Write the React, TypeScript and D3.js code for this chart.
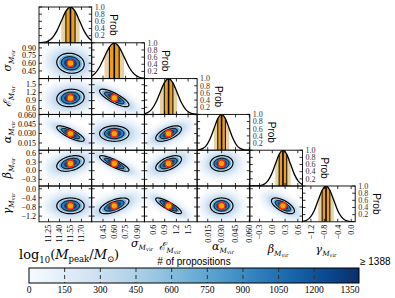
import * as d3 from 'd3';

// parameters in corner order
const RANGES: [number, number][] = [
  [11.12, 11.84],
  [0.3, 1.0],
  [0.38, 1.73],
  [0.0035, 0.0605],
  [-0.53, 0.71],
  [-1.45, 0.12],
];
const TICKS = [
  [11.25, 11.4, 11.55, 11.7],
  [0.45, 0.6, 0.75, 0.9],
  [0.6, 0.9, 1.2, 1.5],
  [0.015, 0.03, 0.045, 0.06],
  [-0.3, 0.0, 0.3, 0.6],
  [-1.2, -0.8, -0.4, 0.0],
];
const TICK_FMT = ['.2f', '.2f', '.1f', '.3f', '.1f', '.1f'];
const MEANS = [11.55, 0.6, 1.0, 0.03, 0.25, -0.75];
const SIGMAS = [0.125, 0.13, 0.22, 0.0082, 0.18, 0.23];
// lower triangle correlations, CORR[row][col]
const CORR = [
  [],
  [-0.1],
  [0.1, -0.8],
  [-0.8, 0.0, 0.6],
  [0.35, -0.85, 0.55, 0.05],
  [0.0, 0.6, -0.85, 0.0, -0.65],
];
// marginal shape, offsets in sigma units and normalised height
const PROFILE_X = [-3.5, -3, -2.5, -2, -1.5, -1, -0.5, 0, 0.5, 1, 1.5, 2, 2.5, 3, 3.5];
const PROFILE_Y = [0.002, 0.011, 0.044, 0.135, 0.325, 0.607, 0.882, 1, 0.882, 0.607, 0.325, 0.135, 0.044, 0.011, 0.002];
const PROB_TICKS = [0.2, 0.4, 0.6, 0.8, 1.0];
const CBAR_TICKS = [0, 150, 300, 450, 600, 750, 900, 1050, 1200, 1350];
const CBAR_MAX = 1388;

const SERIF = 'Liberation Serif, DejaVu Serif, serif';
const MATH = 'DejaVu Serif, serif';
const SANS = 'Liberation Sans, Arial, sans-serif';

const L = 39;
const T = 7;
const CW = 52.7;
const RH = 35.8;
const N = 6;
const B = T + N * RH;

const xScale = (j: number) =>
  d3.scaleLinear().domain(RANGES[j]).range([L + j * CW, L + (j + 1) * CW]);
const yScale = (i: number) =>
  d3.scaleLinear().domain(RANGES[i]).range([T + (i + 1) * RH, T + i * RH]);

function Offdiag({ i, j }: { i: number; j: number }) {
  const xs = xScale(j);
  const ys = yScale(i);
  const rho = CORR[i][j];
  const ellipse = (k: number) => {
    const pts = d3.range(72).map((n) => {
      const t = (n / 72) * 2 * Math.PI;
      return [
        MEANS[j] + k * SIGMAS[j] * Math.cos(t),
        MEANS[i] + k * SIGMAS[i] * (rho * Math.cos(t) + Math.sqrt(1 - rho * rho) * Math.sin(t)),
      ];
    });
    return d3
      .line<number[]>()
      .x((p) => xs(p[0]))
      .y((p) => ys(p[1]))
      .curve(d3.curveLinearClosed)(pts) as string;
  };
  const id = `c${i}${j}`;
  const x0 = L + j * CW;
  const y0 = T + i * RH;
  return (
    <g>
      <clipPath id={id}>
        <rect x={x0} y={y0} width={CW} height={RH} />
      </clipPath>
      <g clipPath={`url(#${id})`}>
        <path d={ellipse(2.8)} fill="#dbe9f6" filter="url(#blurA)" />
        <path d={ellipse(2.0)} fill="#c6dbef" filter="url(#blurB)" />
        <path d={ellipse(1.5)} fill="#c9def0" />
        <path d={ellipse(1.25)} fill="#6aaed6" />
        <path d={ellipse(1.0)} fill="#2b7bba" stroke="#000" strokeWidth={1} />
        <path d={ellipse(0.7)} fill="#0d3f80" />
        <path d={ellipse(1.5)} fill="none" stroke="#000" strokeWidth={1.2} />
        <circle cx={xs(MEANS[j])} cy={ys(MEANS[i])} r={3.3} fill="#ffa500" stroke="#ff2a00" strokeWidth={1.3} />
      </g>
      {TICKS[j].map((t) => (
        <g key={`x${t}`}>
          <line x1={xs(t)} x2={xs(t)} y1={y0 + RH} y2={y0 + RH - 3} stroke="#000" strokeWidth={0.8} />
          <line x1={xs(t)} x2={xs(t)} y1={y0} y2={y0 + 3} stroke="#000" strokeWidth={0.8} />
        </g>
      ))}
      {TICKS[i].map((t) => (
        <g key={`y${t}`}>
          <line x1={x0} x2={x0 + 3} y1={ys(t)} y2={ys(t)} stroke="#000" strokeWidth={0.8} />
          <line x1={x0 + CW} x2={x0 + CW - 3} y1={ys(t)} y2={ys(t)} stroke="#000" strokeWidth={0.8} />
        </g>
      ))}
      <rect x={x0} y={y0} width={CW} height={RH} fill="none" stroke="#000" strokeWidth={0.9} />
    </g>
  );
}

function Diag({ i }: { i: number }) {
  const xs = xScale(i);
  const x0 = L + i * CW;
  const y0 = T + i * RH;
  const ys = d3.scaleLinear().domain([0, 1]).range([y0 + RH, y0]);
  const pts: [number, number][] = PROFILE_X.map((o, k) => [MEANS[i] + o * SIGMAS[i], PROFILE_Y[k]]);
  const full: [number, number][] = [[RANGES[i][0], 0], ...pts, [RANGES[i][1], 0]];
  const area = d3
    .area<[number, number]>()
    .x((d) => xs(d[0]))
    .y0(ys(0))
    .y1((d) => ys(d[1]))
    .curve(d3.curveMonotoneX)(full) as string;
  const line = d3
    .line<[number, number]>()
    .x((d) => xs(d[0]))
    .y((d) => ys(d[1]))
    .curve(d3.curveMonotoneX)(full) as string;
  const prof = d3.scaleLinear().domain(PROFILE_X).range(PROFILE_Y);
  const m = MEANS[i];
  const s = SIGMAS[i];
  const idA = `dA${i}`;
  const idB = `dB${i}`;
  const clipD = `dC${i}`;
  const marks = [-0.5, 0, 0.5];
  return (
    <g>
      <clipPath id={idA}>
        <rect x={xs(m - s)} y={y0} width={xs(m + s) - xs(m - s)} height={RH} />
      </clipPath>
      <clipPath id={idB}>
        <rect x={xs(m - 0.5 * s)} y={y0} width={xs(m + 0.5 * s) - xs(m - 0.5 * s)} height={RH} />
      </clipPath>
      <clipPath id={clipD}>
        <rect x={x0} y={y0} width={CW} height={RH} />
      </clipPath>
      <g clipPath={`url(#${clipD})`}>
        <path d={area} fill="#e5d1a3" clipPath={`url(#${idA})`} />
        <path d={area} fill="#e89d1e" clipPath={`url(#${idB})`} />
        {marks.map((o) => (
          <line
            key={o}
            x1={xs(m + o * s)}
            x2={xs(m + o * s)}
            y1={ys(0)}
            y2={ys(prof(o))}
            stroke="#000"
            strokeWidth={o === 0 ? 1.6 : 1}
          />
        ))}
        <path d={line} fill="none" stroke="#000" strokeWidth={1.3} />
      </g>
      {TICKS[i].map((t) => (
        <g key={`x${t}`}>
          <line x1={xs(t)} x2={xs(t)} y1={y0 + RH} y2={y0 + RH - 3} stroke="#000" strokeWidth={0.8} />
          <line x1={xs(t)} x2={xs(t)} y1={y0} y2={y0 + 3} stroke="#000" strokeWidth={0.8} />
        </g>
      ))}
      {PROB_TICKS.map((t) => (
        <g key={`p${t}`}>
          <line x1={x0} x2={x0 + 3} y1={ys(t)} y2={ys(t)} stroke="#000" strokeWidth={0.8} />
          <line x1={x0 + CW} x2={x0 + CW - 3} y1={ys(t)} y2={ys(t)} stroke="#000" strokeWidth={0.8} />
          <text x={x0 + CW + 3} y={ys(t) + 2.8} fontSize={8} fontFamily={SERIF} fill="#333">
            {d3.format('.1f')(t)}
          </text>
        </g>
      ))}
      <text
        transform={`translate(${x0 + CW + 18},${y0 + RH / 2}) rotate(90)`}
        textAnchor="middle"
        fontSize={10}
        fontFamily={SANS}
      >
        Prob
      </text>
      <rect x={x0} y={y0} width={CW} height={RH} fill="none" stroke="#000" strokeWidth={0.9} />
    </g>
  );
}

// symbol of each parameter (subscript M_vir added in MathLabel)
const NAMES = ['', 'σ', 'ℰ', 'α', 'β', 'γ'];

function MathLabel({ sym, size }: { sym: string; size: number }) {
  return (
    <>
      <tspan fontStyle="italic" fontSize={size}>{sym}</tspan>
      <tspan fontStyle="italic" fontSize={size * 0.66} dy={size * 0.25}>M</tspan>
      <tspan fontSize={size * 0.46} dy={size * 0.14}>vir</tspan>
    </>
  );
}

export default function App() {
  const cx = d3.scaleLinear().domain([0, CBAR_MAX]).range([29, 359]);
  const stops = d3.range(0, 1.0001, 0.1);
  const xLabelX = [0, 142, 170, 223, 278, 326];
  const xLabelY = [0, 247, 250, 250, 253, 253];
  return (
    <svg width={395} height={298} style={{ position: 'absolute', left: 0, top: 0, background: '#fff' }}>
      <defs>
        <filter id="blurA" x="-50%" y="-50%" width="200%" height="200%">
          <feGaussianBlur stdDeviation={3} />
        </filter>
        <filter id="blurB" x="-50%" y="-50%" width="200%" height="200%">
          <feGaussianBlur stdDeviation={1.5} />
        </filter>
        <linearGradient id="cbar" x1="0" x2="1" y1="0" y2="0">
          {stops.map((s) => (
            <stop key={s} offset={s} stopColor={d3.interpolateBlues(s)} />
          ))}
        </linearGradient>
      </defs>
      <rect width={395} height={298} fill="#fff" />
      {d3.range(N).map((i) =>
        d3.range(i + 1).map((j) => (i === j ? <Diag key={`${i}${j}`} i={i} /> : <Offdiag key={`${i}${j}`} i={i} j={j} />))
      )}
      {/* y tick labels on first column */}
      {d3.range(1, N).map((i) => {
        const ys = yScale(i);
        return TICKS[i].map((t) => (
          <text key={`yl${i}${t}`} x={36} y={ys(t) + 2.8} textAnchor="end" fontSize={8} fontFamily={SERIF}>
            {d3.format(TICK_FMT[i])(t)}
          </text>
        ));
      })}
      {/* x tick labels on bottom row */}
      {d3.range(N).map((j) => {
        const xs = xScale(j);
        return TICKS[j].map((t) => (
          <text
            key={`xl${j}${t}`}
            transform={`translate(${xs(t) + 2.8},${B + 3}) rotate(-90)`}
            textAnchor="end"
            fontSize={8}
            fontFamily={SERIF}
          >
            {d3.format(TICK_FMT[j])(t)}
          </text>
        ));
      })}
      {/* y axis names */}
      {d3.range(1, N).map((i) => (
        <text
          key={`yn${i}`}
          transform={`translate(11,${T + i * RH + RH / 2}) rotate(-90)`}
          textAnchor="middle"
          fontFamily={MATH}
        >
          <MathLabel sym={NAMES[i]} size={11} />
        </text>
      ))}
      {/* x axis names */}
      <text x={19} y={259} fontFamily={MATH} fontSize={13}>
        <tspan>log</tspan>
        <tspan fontSize={8.5} dy={3.5}>10</tspan>
        <tspan dy={-3.5}>(</tspan>
        <tspan fontStyle="italic">M</tspan>
        <tspan fontSize={8.5} dy={3}>peak</tspan>
        <tspan dy={-3}>/</tspan>
        <tspan fontStyle="italic">M</tspan>
        <tspan fontSize={8.5} dy={3}>⊙</tspan>
        <tspan dy={-3}>)</tspan>
      </text>
      {d3.range(1, N).map((j) => (
        <text key={`xn${j}`} x={xLabelX[j]} y={xLabelY[j]} textAnchor="middle" fontFamily={MATH}>
          <MathLabel sym={NAMES[j]} size={11} />
        </text>
      ))}
      {/* colorbar */}
      <text x={194} y={265} textAnchor="middle" fontSize={10} fontFamily={SANS}>
        # of propositions
      </text>
      <text x={360} y={265} fontSize={10} fontFamily={SANS}>
        ≥ {CBAR_MAX}
      </text>
      <rect x={cx(0)} y={268} width={cx(CBAR_MAX) - cx(0)} height={15} fill="url(#cbar)" />
      {CBAR_TICKS.filter((t) => t > 0).map((t) => (
        <line key={`ct${t}`} x1={cx(t)} x2={cx(t)} y1={268} y2={283} stroke="#333" strokeWidth={1} strokeDasharray="4,3" />
      ))}
      <rect x={cx(0)} y={268} width={cx(CBAR_MAX) - cx(0)} height={15} fill="none" stroke="#000" strokeWidth={1} />
      {CBAR_TICKS.map((t) => (
        <text key={`cl${t}`} x={cx(t)} y={293} textAnchor="middle" fontSize={9.5} fontFamily={SERIF}>
          {t}
        </text>
      ))}
    </svg>
  );
}
